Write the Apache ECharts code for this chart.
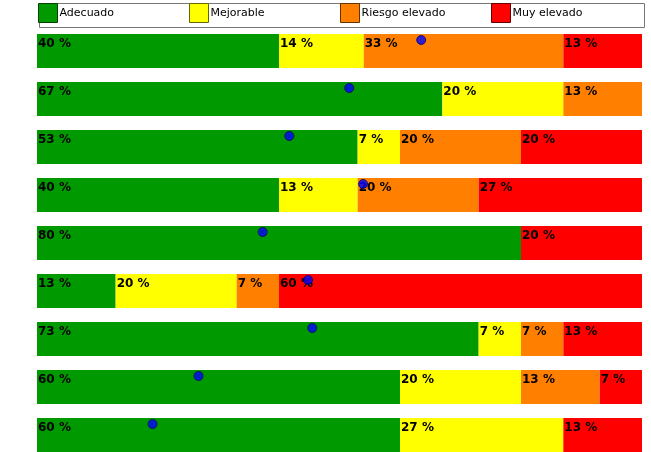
<!DOCTYPE html>
<html>
<head>
<meta charset="utf-8">
<script src="https://cdn.jsdelivr.net/npm/echarts@6/dist/echarts.min.js"></script>
<style>
  html, body { margin: 0; padding: 0; background: #fff; overflow: hidden; }
  #chart { width: 651px; height: 452px; }
</style>
</head>
<body>
<div id="chart"></div>
<script>
  // filas de la encuesta, de arriba abajo
  var categorias = ['P1', 'P2', 'P3', 'P4', 'P5', 'P6', 'P7', 'P8', 'P9'];
  var niveles = ['Adecuado', 'Mejorable', 'Riesgo elevado', 'Muy elevado'];

  var adecuado      = [40, 67, 53, 40, 80, 13, 73, 60, 60];
  var mejorable     = [14, 20, 7, 13, 0, 20, 7, 20, 27];
  var riesgoElevado = [33, 13, 20, 20, 0, 7, 7, 13, 0];
  var muyElevado    = [13, 0, 20, 27, 20, 60, 13, 7, 13];
  // puntos azules (media) sobre cada barra
  var media = [63.5, 51.6, 41.7, 53.9, 37.3, 44.8, 45.5, 26.7, 19.1];

  var colores = ['#009900', '#ffff00', '#ff8000', '#ff0000'];
  var bordes = ['#004400', '#666600', '#663300', '#660000'];

  var chart = echarts.init(document.getElementById('chart'));

  function serieBarra(nombre, datos, i) {
    return {
      name: nombre,
      type: 'bar',
      stack: 'total',
      barWidth: 34,
      data: datos,
      itemStyle: { color: colores[i] },
      label: {
        show: true,
        position: 'insideTopLeft',
        distance: 0,
        padding: [4, 0, 0, 1],
        color: '#000',
        fontFamily: 'DejaVu Sans',
        fontWeight: 'bold',
        fontSize: 12,
        formatter: function (p) { return p.value > 0 ? p.value + ' %' : ''; }
      },
      emphasis: { disabled: true }
    };
  }

  // una leyenda por nivel, repartidas a lo ancho del recuadro
  var leyendas = niveles.map(function (n, i) {
    return {
      left: 38 + i * 151,
      top: 3,
      padding: 0,
      itemWidth: 19,
      itemHeight: 19,
      selectedMode: false,
      textStyle: { fontFamily: 'DejaVu Sans', fontSize: 11, color: '#000', padding: [0, 0, 0, -3] },
      data: [{ name: n, icon: 'rect', itemStyle: { borderColor: bordes[i], borderWidth: 1 } }]
    };
  });

  chart.setOption({
    animation: false,
    legend: leyendas,
    graphic: [{
      type: 'rect',
      left: 37,
      top: 1,
      shape: { width: 605, height: 24 },
      style: { fill: 'none', stroke: '#777', lineWidth: 1 },
      silent: true
    }],
    grid: { left: 37, width: 605, top: 27, height: 432, outerBoundsMode: 'none' },
    xAxis: { type: 'value', min: 0, max: 100, show: false },
    yAxis: { type: 'category', data: categorias, inverse: true, show: false },
    series: [
      serieBarra(niveles[0], adecuado, 0),
      serieBarra(niveles[1], mejorable, 1),
      serieBarra(niveles[2], riesgoElevado, 2),
      serieBarra(niveles[3], muyElevado, 3),
      {
        name: 'Media',
        type: 'scatter',
        data: media,
        symbol: 'circle',
        symbolSize: 9,
        symbolOffset: [0, -11],
        itemStyle: { color: '#0000ff', borderColor: '#000066', borderWidth: 1 },
        z: 5
      }
    ]
  });
</script>
</body>
</html>
